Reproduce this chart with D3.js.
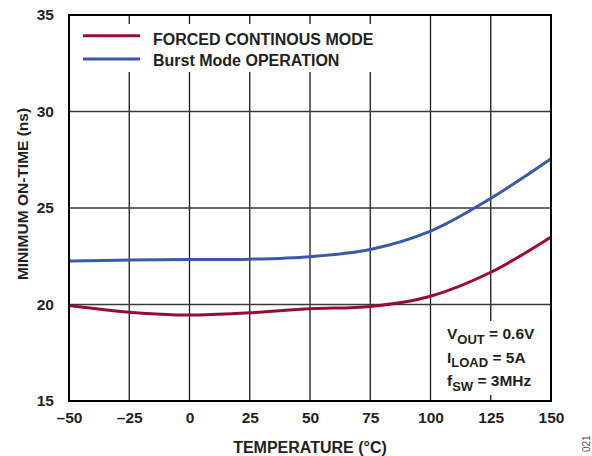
<!DOCTYPE html>
<html><head><meta charset="utf-8">
<script src="https://cdn.jsdelivr.net/npm/d3@7"></script>
<style>body{margin:0;background:#fff}svg{display:block;font-family:"Liberation Sans",Arial,sans-serif}</style>
</head><body>
<svg id="c" width="592" height="456"></svg>
<script>
const temps = [-50, -25, 0, 25, 50, 75, 100, 125, 150];
const forcedCont = [19.95, 19.6, 19.45, 19.57, 19.78, 19.9, 20.43, 21.67, 23.5];
const burstMode = [22.25, 22.3, 22.33, 22.35, 22.48, 22.85, 23.8, 25.5, 27.55];
const xTicks = [-50, -25, 0, 25, 50, 75, 100, 125, 150];
const yTicks = [15, 20, 25, 30, 35];
const seriesNames = ["FORCED CONTINOUS MODE", "Burst Mode OPERATION"];
const colors = ["#9b0a30", "#3a5aa8"];

const svg = d3.select("#c");
const L = 69, R = 551, T = 15, B = 401;
const x = d3.scaleLinear().domain([-50, 150]).range([L, R]);
const y = d3.scaleLinear().domain([15, 35]).range([B, T]);
const txt = "#231f20";
const FF = "Liberation Sans, Arial, sans-serif";

// grid
const g = svg.append("g");
g.selectAll(".vg").data(xTicks.slice(1, -1)).enter().append("line")
  .attr("x1", d => x(d)).attr("x2", d => x(d)).attr("y1", T).attr("y2", B)
  .attr("stroke", "#1a1a1a").attr("stroke-width", 1.3);
g.selectAll(".hg").data(yTicks.slice(1, -1)).enter().append("line")
  .attr("y1", d => y(d)).attr("y2", d => y(d)).attr("x1", L).attr("x2", R)
  .attr("stroke", "#3a3a3a").attr("stroke-width", 1.3);

// legend / annotation masks
svg.append("rect").attr("x", 75).attr("y", 24).attr("width", 310).attr("height", 48).attr("fill", "#fff");
svg.append("rect").attr("x", 440).attr("y", 321).attr("width", 108).attr("height", 74).attr("fill", "#fff");

// lines
const line = d3.line().x((d, i) => x(temps[i])).y(d => y(d)).curve(d3.curveCatmullRom.alpha(0.5));
[forcedCont, burstMode].forEach((s, i) => {
  svg.append("path").datum(s).attr("d", line).attr("fill", "none")
    .attr("stroke", colors[i]).attr("stroke-width", 3);
});

// frame
svg.append("rect").attr("x", L).attr("y", T).attr("width", R - L).attr("height", B - T)
  .attr("fill", "none").attr("stroke", "#000").attr("stroke-width", 2);

// axes
const xAxis = d3.axisBottom(x).tickValues(xTicks).tickSize(0).tickPadding(11)
  .tickFormat(d => d < 0 ? "\u2013" + Math.abs(d) : d);
const xa = svg.append("g").attr("transform", `translate(0,${B})`).call(xAxis);
xa.select(".domain").remove();
xa.selectAll("text").attr("font-size", 15.5).attr("font-weight", "bold").attr("fill", txt)
  .attr("font-family", FF);
const yAxis = d3.axisLeft(y).tickValues(yTicks).tickSize(0).tickPadding(15);
const ya = svg.append("g").attr("transform", `translate(${L},0)`).call(yAxis);
ya.select(".domain").remove();
ya.selectAll("text").attr("font-size", 15.5).attr("font-weight", "bold").attr("fill", txt)
  .attr("font-family", FF);

// titles
svg.append("text").attr("x", 310).attr("y", 453).attr("text-anchor", "middle")
  .attr("font-size", 16).attr("font-weight", "bold").attr("fill", txt).text("TEMPERATURE (°C)");
svg.append("text").attr("transform", "translate(28,194) rotate(-90)").attr("text-anchor", "middle")
  .attr("font-size", 15.5).attr("font-weight", "bold").attr("fill", txt).text("MINIMUM ON-TIME (ns)");

// legend
const legLineY = [35.7, 59];
const legTextY = [44.5, 65.5];
seriesNames.forEach((n, i) => {
  svg.append("line").attr("x1", 83).attr("x2", 140).attr("y1", legLineY[i]).attr("y2", legLineY[i])
    .attr("stroke", colors[i]).attr("stroke-width", 3);
  svg.append("text").attr("x", 153).attr("y", legTextY[i]).attr("font-size", 16).attr("font-weight", "bold")
    .attr("fill", txt).text(n);
});

// annotation
const ann = [["V", "OUT", " = 0.6V"], ["I", "LOAD", " = 5A"], ["f", "SW", " = 3MHz"]];
ann.forEach((a, i) => {
  const t = svg.append("text").attr("x", 447).attr("y", 339 + i * 23.5).attr("font-size", 15.5)
    .attr("font-weight", "bold").attr("fill", txt);
  t.append("tspan").text(a[0]);
  t.append("tspan").attr("dy", 4.5).attr("font-size", 13).text(a[1]);
  t.append("tspan").attr("dy", -4.5).text(a[2]);
});

// figure id
svg.append("text").attr("transform", "translate(590,452) rotate(-90)").attr("font-size", 10)
  .attr("fill", "#555").text("021");
</script>
</body></html>
